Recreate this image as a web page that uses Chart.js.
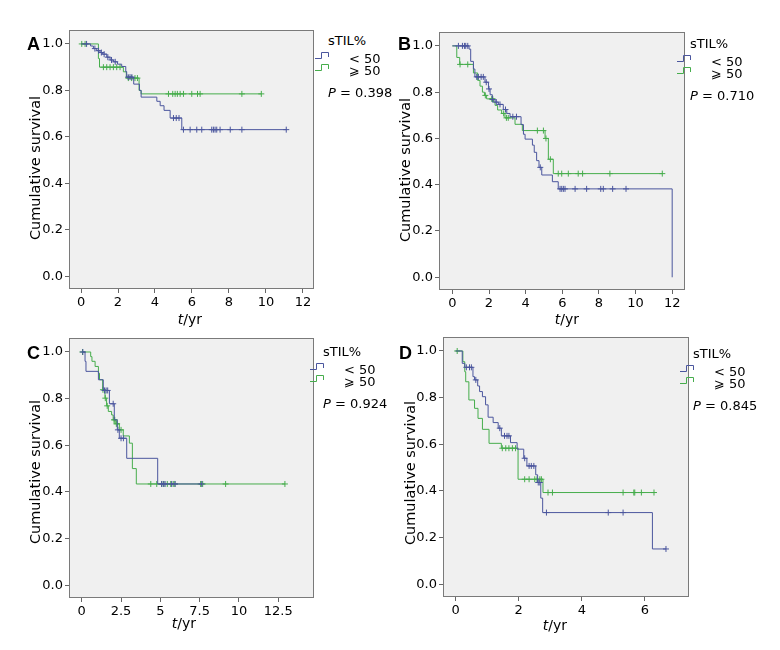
<!DOCTYPE html>
<html>
<head>
<meta charset="utf-8">
<script src="https://cdn.jsdelivr.net/npm/chart.js@4.4.1/dist/chart.umd.min.js"></script>
<style>
    body { margin: 0; background: #fff; font-family: 'DejaVu Sans', Verdana, sans-serif; }
    #wrap { position: relative; width: 780px; height: 650px; overflow: hidden; }
    #wrap canvas { position: absolute; }
    .txt { position: absolute; font-size: 13px; color: #000; white-space: nowrap; line-height: 1; }
    .letter { position: absolute; font: bold 18px 'Liberation Sans', Arial, sans-serif; }
    .ytitle { position: absolute; font-size: 14.5px; white-space: nowrap; transform: translate(-50%, -50%) rotate(-90deg); }
    .xtitle { position: absolute; font-size: 14px; white-space: nowrap; transform: translate(-50%, -50%); }
    .icon { position: absolute; }
</style>
</head>
<body>
<div id="wrap"></div>
<script>
// shared axis ticks and legend text
const yTicks = [0, 0.2, 0.4, 0.6, 0.8, 1.0];
const xTicksA = [0, 2, 4, 6, 8, 10, 12];
const xTicksB = [0, 2, 4, 6, 8, 10, 12];
const xTicksC = [0, 2.5, 5, 7.5, 10, 12.5];
const xTicksD = [0, 2, 4, 6];
const groupLabels = ['< 50', '\u2A7E 50'];
const legendTitle = 'sTIL%';
const pValues = ['0.398', '0.710', '0.924', '0.845'];

// Panel A: event times / survival after event / censored times
const aLowT = [0, 0.52, 0.67, 0.85, 1.03, 1.17, 1.39, 1.57, 1.75, 1.97, 2.20, 2.42, 2.47, 2.85, 3.16, 3.25, 4.10, 4.28, 4.49, 4.82, 5.45];
const aLowS = [1.0, 0.991, 0.980, 0.971, 0.963, 0.956, 0.943, 0.931, 0.923, 0.913, 0.903, 0.881, 0.857, 0.827, 0.800, 0.771, 0.753, 0.734, 0.714, 0.681, 0.631];
const aLowC = [0.3, 0.75, 0.95, 1.1, 1.25, 1.45, 1.65, 1.85, 2.55, 2.65, 2.75, 5.0, 5.15, 5.3, 5.54, 5.90, 6.26, 6.53, 7.07, 7.16, 7.25, 7.34, 7.52, 8.07, 8.70, 11.1];
const aHighT = [0, 0.94, 1.0, 2.29, 2.45, 3.14, 3.25];
const aHighS = [1.0, 0.937, 0.90, 0.88, 0.853, 0.80, 0.785];
const aHighC = [0.04, 0.22, 1.21, 1.39, 1.57, 1.75, 1.93, 2.11, 2.56, 2.74, 2.92, 3.05, 4.73, 4.96, 5.09, 5.21, 5.36, 5.54, 5.99, 6.30, 6.44, 8.70, 9.75];

// Panel B
const bLowT = [0, 0.91, 1.0, 1.15, 1.23, 1.78, 1.97, 2.06, 2.18, 2.33, 2.51, 2.78, 2.97, 3.15, 3.75, 3.88, 3.97, 4.37, 4.47, 4.60, 4.73, 4.88, 5.46, 5.78, 12.0];
const bLowS = [1.0, 0.986, 0.933, 0.90, 0.866, 0.843, 0.814, 0.789, 0.768, 0.757, 0.747, 0.725, 0.708, 0.694, 0.66, 0.618, 0.597, 0.571, 0.54, 0.504, 0.475, 0.442, 0.413, 0.382, 0.0];
const bLowC = [0.33, 0.55, 0.66, 0.73, 0.84, 1.33, 1.42, 1.57, 1.69, 1.85, 2.0, 2.2, 2.4, 2.6, 2.9, 3.3, 3.5, 4.8, 5.88, 5.97, 6.06, 6.15, 6.70, 7.33, 8.10, 8.24, 8.75, 9.48];
const bHighT = [0, 0.24, 0.40, 1.15, 1.38, 1.51, 1.64, 1.75, 1.87, 2.24, 2.33, 2.47, 2.69, 2.87, 3.42, 3.82, 5.06, 5.24, 5.51];
const bHighS = [1.0, 0.95, 0.92, 0.883, 0.851, 0.826, 0.80, 0.786, 0.771, 0.757, 0.743, 0.723, 0.708, 0.689, 0.661, 0.634, 0.60, 0.51, 0.448];
const bHighC = [0.42, 0.84, 1.8, 2.15, 2.2, 2.8, 2.95, 3.05, 4.64, 4.97, 5.11, 5.35, 5.78, 5.97, 6.33, 6.87, 7.11, 8.60, 11.46];

// Panel C
const cLowT = [0, 0.21, 0.27, 1.06, 1.37, 1.76, 2.07, 2.26, 2.39, 2.86, 4.83];
const cLowS = [1.0, 0.96, 0.917, 0.881, 0.835, 0.778, 0.709, 0.666, 0.630, 0.544, 0.434];
const cLowC = [0.07, 1.45, 1.55, 1.65, 2.0, 2.3, 2.5, 2.65, 5.08, 5.19, 5.30, 5.72, 5.93, 7.63];
const cHighT = [0, 0.57, 0.65, 0.85, 1.06, 1.13, 1.33, 1.48, 1.58, 1.69, 1.90, 2.0, 2.17, 2.39, 2.64, 3.03, 3.22, 3.47];
const cHighS = [1.0, 0.98, 0.96, 0.938, 0.909, 0.881, 0.838, 0.802, 0.769, 0.745, 0.73, 0.709, 0.692, 0.666, 0.640, 0.609, 0.50, 0.434];
const cHighC = [0.05, 1.35, 1.5, 1.62, 2.05, 2.1, 2.2, 2.25, 2.5, 4.39, 4.77, 5.09, 5.23, 5.44, 5.66, 5.82, 5.93, 7.56, 7.69, 9.15, 12.92];

// Panel D
const dLowT = [0, 0.21, 0.29, 0.55, 0.60, 0.70, 0.76, 0.85, 0.95, 1.03, 1.19, 1.35, 1.45, 1.74, 1.95, 2.16, 2.26, 2.54, 2.60, 2.70, 2.76, 6.24];
const dLowS = [1.0, 0.947, 0.930, 0.890, 0.876, 0.850, 0.826, 0.804, 0.769, 0.716, 0.693, 0.669, 0.636, 0.607, 0.579, 0.540, 0.507, 0.469, 0.436, 0.369, 0.307, 0.151];
const dLowC = [0.34, 0.44, 0.50, 0.64, 1.40, 1.55, 1.63, 1.69, 2.19, 2.33, 2.40, 2.48, 2.62, 2.67, 2.88, 4.84, 5.31, 6.67];
const dHighT = [0, 0.23, 0.29, 0.32, 0.42, 0.60, 0.71, 0.85, 1.06, 1.45, 1.98, 2.77];
const dHighS = [1.0, 0.954, 0.911, 0.868, 0.790, 0.754, 0.711, 0.664, 0.604, 0.583, 0.45, 0.393];
const dHighC = [0.05, 1.48, 1.59, 1.69, 1.80, 1.90, 2.19, 2.33, 2.51, 2.58, 2.67, 2.72, 2.93, 3.07, 5.31, 5.65, 5.68, 5.89, 6.29];

const BLUE = '#4b569e';
const GREEN = '#46ad4c';
const FONT = "'DejaVu Sans', Verdana, sans-serif";

// layout of the four panels (frame = plot box in page pixels)
const panels = [
    { letter: 'A', frame: [69, 30, 245, 259], xMin: -0.65, xMax: 12.6, xTicks: xTicksA,
      low: [aLowT, aLowS, aLowC], high: [aHighT, aHighS, aHighC], p: pValues[0],
      letterPos: [27, 34], legend: [328, 34], xTitle: [190, 319], yTitle: [35, 168] },
    { letter: 'B', frame: [439, 32, 246, 258], xMin: -0.73, xMax: 12.7, xTicks: xTicksB,
      low: [bLowT, bLowS, bLowC], high: [bHighT, bHighS, bHighC], p: pValues[1],
      letterPos: [398, 34], legend: [690, 37], xTitle: [567, 319], yTitle: [405, 170] },
    { letter: 'C', frame: [69, 338, 245, 260], xMin: -0.81, xMax: 14.77, xTicks: xTicksC,
      low: [cLowT, cLowS, cLowC], high: [cHighT, cHighS, cHighC], p: pValues[2],
      letterPos: [27, 343], legend: [323, 345], xTitle: [184, 623], yTitle: [35, 472] },
    { letter: 'D', frame: [443, 337, 246, 260], xMin: -0.40, xMax: 7.4, xTicks: xTicksD,
      low: [dLowT, dLowS, dLowC], high: [dHighT, dHighS, dHighC], p: pValues[3],
      letterPos: [399, 343], legend: [693, 347], xTitle: [555, 625], yTitle: [410, 473] }
];

function levelAt(ts, ss, t) {
    let s = ss[0];
    for (let i = 0; i < ts.length; i++) if (ts[i] <= t) s = ss[i];
    return s;
}

function stepPoints(ts, ss, cens) {
    const pts = ts.map((t, i) => ({ x: t, y: ss[i] }));
    const end = Math.max(...cens);
    if (end > ts[ts.length - 1]) pts.push({ x: end, y: ss[ss.length - 1] });
    return pts;
}

function censorPoints(ts, ss, cens) {
    return cens.map(t => ({ x: t, y: levelAt(ts, ss, t) }));
}

// grey plot box with border
const framePlugin = {
    id: 'frame',
    beforeDraw(chart) {
        const a = chart.chartArea, ctx = chart.ctx;
        ctx.save();
        ctx.fillStyle = '#f0f0f0';
        ctx.fillRect(a.left, a.top, a.right - a.left, a.bottom - a.top);
        ctx.restore();
    },
    afterDraw(chart) {
        const a = chart.chartArea, ctx = chart.ctx;
        ctx.save();
        ctx.strokeStyle = '#7a7a7a';
        ctx.lineWidth = 1;
        ctx.strokeRect(Math.round(a.left) + 0.5, Math.round(a.top) + 0.5,
            Math.round(a.right - a.left) - 1, Math.round(a.bottom - a.top) - 1);
        ctx.restore();
    }
};

const wrap = document.getElementById('wrap');

function addText(cls, html, x, y) {
    const el = document.createElement('div');
    el.className = cls;
    el.innerHTML = html;
    el.style.left = x + 'px';
    el.style.top = y + 'px';
    wrap.appendChild(el);
    return el;
}

function addIcon(color, x, y) {
    const ns = 'http://www.w3.org/2000/svg';
    const svg = document.createElementNS(ns, 'svg');
    svg.setAttribute('width', 16);
    svg.setAttribute('height', 9);
    svg.setAttribute('class', 'icon');
    svg.style.left = x + 'px';
    svg.style.top = y + 'px';
    const path = document.createElementNS(ns, 'path');
    path.setAttribute('d', 'M0 7.5 H6.5 V1.5 H13.5 V6');
    path.setAttribute('stroke', color);
    path.setAttribute('fill', 'none');
    path.setAttribute('stroke-width', 1);
    svg.appendChild(path);
    wrap.appendChild(svg);
}

function makePanel(p) {
    const [fx, fy, fw, fh] = p.frame;
    const canvas = document.createElement('canvas');
    canvas.width = fw + 60;
    canvas.height = fh + 40;
    canvas.style.left = (fx - 50) + 'px';
    canvas.style.top = (fy - 10) + 'px';
    wrap.appendChild(canvas);

    const tickFont = { family: FONT, size: 13 };
    const line = (pts, color) => ({
        data: pts, borderColor: color, borderWidth: 1, stepped: true,
        pointRadius: 0, fill: false
    });
    const marks = (pts, color) => ({
        data: pts, showLine: false, pointStyle: 'cross', pointRadius: 3,
        borderColor: color, backgroundColor: color, pointBorderWidth: 1
    });

    new Chart(canvas, {
        type: 'line',
        data: {
            datasets: [
                marks(censorPoints(...p.low), BLUE),
                line(stepPoints(...p.low), BLUE),
                marks(censorPoints(...p.high), GREEN),
                line(stepPoints(...p.high), GREEN)
            ]
        },
        options: {
            responsive: false,
            animation: false,
            devicePixelRatio: 1,
            layout: { padding: { left: 0, right: 10, top: 10, bottom: 0 } },
            plugins: { legend: { display: false }, tooltip: { enabled: false } },
            scales: {
                x: {
                    type: 'linear', min: p.xMin, max: p.xMax,
                    afterBuildTicks: s => { s.ticks = p.xTicks.map(v => ({ value: v })); },
                    afterFit: s => { s.height = 30; },
                    grid: { drawOnChartArea: false, tickLength: 4, color: '#666' },
                    border: { display: false },
                    ticks: { color: '#000', font: tickFont, padding: 2, maxRotation: 0, autoSkip: false,
                             callback: v => String(v) }
                },
                y: {
                    min: -0.055, max: 1.06,
                    afterBuildTicks: s => { s.ticks = yTicks.map(v => ({ value: v })); },
                    afterFit: s => { s.width = 50; },
                    grid: { drawOnChartArea: false, tickLength: 4, color: '#666' },
                    border: { display: false },
                    ticks: { color: '#000', font: tickFont, padding: 2, autoSkip: false,
                             callback: v => v.toFixed(1) }
                }
            }
        },
        plugins: [framePlugin]
    });

    // panel letter, axis titles, legend
    addText('letter', p.letter, p.letterPos[0], p.letterPos[1]);
    addText('ytitle', 'Cumulative survival', p.yTitle[0], p.yTitle[1]);
    addText('xtitle', '<i>t</i>/yr', p.xTitle[0], p.xTitle[1]);
    const [lx, ly] = p.legend;
    addText('txt', legendTitle, lx, ly);
    addIcon(BLUE, lx - 13, ly + 17);
    addText('txt', groupLabels[0], lx + 21, ly + 18);
    addIcon(GREEN, lx - 13, ly + 29);
    addText('txt', groupLabels[1], lx + 21, ly + 30);
    addText('txt', '<i>P</i> = ' + p.p, lx, ly + 52);
}

panels.forEach(makePanel);
</script>
</body>
</html>
